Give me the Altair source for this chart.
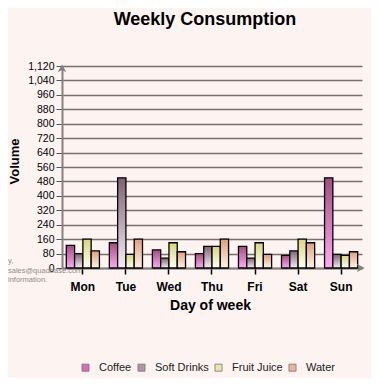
import altair as alt
import pandas as pd

days = ["Mon", "Tue", "Wed", "Thu", "Fri", "Sat", "Sun"]
series = ["Coffee", "Soft Drinks", "Fruit Juice", "Water"]
coffee = [125, 140, 100, 80, 120, 70, 500]
soft_drinks = [80, 500, 55, 120, 55, 95, 75]
fruit_juice = [160, 75, 140, 120, 140, 160, 70]
water = [95, 160, 90, 160, 75, 140, 90]
y_ticks = list(range(0, 1121, 80))

grad_top = ["#a34c80", "#7f6172", "#d6d67e", "#df9f7f"]
grad_bottom = ["#ffaaf6", "#f6eef6", "#fffff2", "#fff4e2"]
legend_colors = ["#d072b6", "#ad98a6", "#e8e8a6", "#e8b890"]

rows = []
for s, vals in zip(series, [coffee, soft_drinks, fruit_juice, water]):
    for d, v in zip(days, vals):
        rows.append({"day": d, "series": s, "value": v})
df = pd.DataFrame(rows)

font = "Liberation Sans"
bg = "#fdf4f2"

x_enc = alt.X("day:N", sort=days,
              scale=alt.Scale(paddingInner=0.23, paddingOuter=0.1),
              axis=alt.Axis(title="Day of week", labelAngle=0, labelFont=font,
                            labelFontSize=12, labelFontWeight="bold", labelColor="#000",
                            labelPadding=7, tickSize=6, tickColor="#000", tickWidth=1.5,
                            domainColor="#858080", domainWidth=2,
                            titleFont=font, titleFontSize=14, titleFontWeight="bold",
                            titleColor="#000", titleX=148, titleY=37,
                            titleBaseline="middle", titleAlign="center"))
xo_enc = alt.XOffset("series:N", sort=series,
                     scale=alt.Scale(domain=series, paddingInner=0, paddingOuter=0))
y_enc = alt.Y("value:Q", scale=alt.Scale(domain=[0, 1120], nice=False),
              axis=alt.Axis(title="Volume", values=y_ticks, format=",d",
                            labelFont=font, labelFontSize=10.5, labelColor="#000",
                            labelPadding=2, tickSize=6, tickColor="#555",
                            domainColor="#858080", domainWidth=2,
                            gridColor="#7a6e6e", gridWidth=1.3,
                            titleFont=font, titleFontSize=13, titleFontWeight="bold",
                            titleColor="#000", titleX=-48, titleY=95,
                            titleBaseline="middle", titleAlign="center", titleAngle=-90))

base = alt.Chart(df)
layers = []
for i, s in enumerate(series):
    grad = alt.LinearGradient(gradient="linear", x1=0, y1=0, x2=0, y2=1,
                              stops=[alt.GradientStop(color=grad_top[i], offset=0),
                                     alt.GradientStop(color=grad_bottom[i], offset=1)])
    layers.append(
        base.transform_filter(alt.datum.series == s)
        .mark_bar(fill=grad, stroke="#000", strokeWidth=1.3)
        .encode(x=x_enc, xOffset=xo_enc, y=y_enc)
    )

legend_layer = base.mark_square(opacity=0, size=1).encode(
    x=x_enc, xOffset=xo_enc, y=y_enc,
    color=alt.Color("series:N", sort=series,
                    scale=alt.Scale(domain=series, range=legend_colors),
                    legend=alt.Legend(title=None, orient="none", direction="horizontal",
                                      legendX=18, legendY=296, symbolType="square",
                                      symbolSize=50, symbolOpacity=1,
                                      symbolStrokeColor="#8a6a80", symbolStrokeWidth=0.8,
                                      labelFont=font, labelFontSize=11, labelColor="#222",
                                      labelOffset=8, columnPadding=4))
)

arrow_df = pd.DataFrame({"k": ["y", "x"]})
y_arrow = alt.Chart(arrow_df).transform_filter(alt.datum.k == "y").mark_point(
    shape="M0,-1 L-0.9,0.7 L0,0.2 L0.9,0.7 Z", filled=True, color="#858080", size=90, opacity=1
).encode(x=alt.value(0), y=alt.value(3))
x_arrow = alt.Chart(arrow_df).transform_filter(alt.datum.k == "x").mark_point(
    shape="M1,0 L-0.7,-0.9 L-0.2,0 L-0.7,0.9 Z", filled=True, color="#858080", size=90, opacity=1
).encode(x=alt.value(298), y=alt.value(202))

wm_text = "y,\nsales@quadbase.com\ninformation."
wm_df = pd.DataFrame({"t": [wm_text]})
watermark = alt.Chart(wm_df).mark_text(
    align="left", baseline="middle", font=font, fontSize=7.5, color="#958a8a",
    lineBreak="\n", lineHeight=9.5
).encode(x=alt.value(-54), y=alt.value(195), text="t:N")

chart = alt.layer(*layers, legend_layer, y_arrow, x_arrow, watermark).properties(
    width=300, height=202,
    title=alt.TitleParams("Weekly Consumption", font=font, fontSize=18, fontWeight="bold",
                          color="#000", anchor="middle", offset=32, dx=-7),
    background=bg,
    padding={"left": 54, "top": 58, "right": 9, "bottom": 110},
    autosize=alt.AutoSizeParams(type="none"),
).configure_view(stroke=None)

chart.save("out.html", embed_options={"renderer": "svg", "actions": False})
